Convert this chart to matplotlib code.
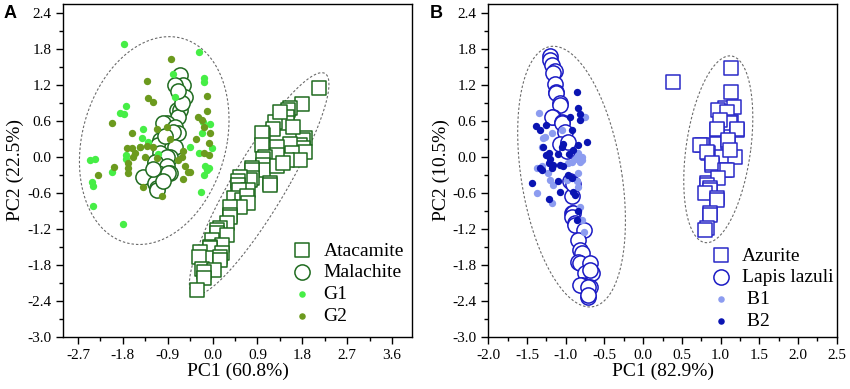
import matplotlib
matplotlib.use("Agg")
import matplotlib.pyplot as plt
import numpy as np

plt.rcParams['font.family'] = ['Liberation Serif', 'DejaVu Serif']

# ---- panel A data ----
ata_x = [2.14, 1.79, 1.55, 1.52, 1.49, 1.49, 1.25, 1.22, 1.02, 0.99, 1.85, 1.82, 1.75, 1.82, 1.55, 1.29,
         0.99, 1.85, 1.59, 1.75, 1.49, 1.29, 1.05, 1.02, 1.02, 1.02, 1.29, 1.42, 0.79, 0.79, 0.79, 0.75,
         1.15, 1.15, 0.55, 0.52, 0.52, 0.72, 0.54, 0.42, 0.59, 0.69, 0.72, 0.55, 0.35, 0.35, 0.35, 0.28,
         0.15, 0.08, 0.08, 0.28, -0.02, 0.18, -0.05, -0.05, -0.25, 0.18, -0.08, 0.15, 0.15, -0.28, -0.22,
         0.02, -0.18, -0.18, -0.31, 1.35, 1.62]
ata_y = [1.15, 0.88, 0.81, 0.78, 0.67, 0.56, 0.58, 0.47, 0.36, 0.39, 0.31, 0.28, 0.20, 0.14, 0.22, 0.17,
         0.20, 0.08, 0.06, -0.05, -0.05, 0.03, 0.00, -0.03, -0.14, -0.22, -0.16, -0.11, -0.19, -0.22, -0.36,
         -0.39, -0.44, -0.47, -0.33, -0.41, -0.47, -0.55, -0.55, -0.69, -0.72, -0.66, -0.77, -0.83, -0.83,
         -0.97, -1.00, -1.11, -1.19, -1.22, -1.27, -1.30, -1.39, -1.47, -1.50, -1.52, -1.58, -1.61, -1.69,
         -1.66, -1.72, -1.66, -1.86, -1.88, -1.91, -2.02, -2.21, 0.75, 0.50]

mal_x = [-0.65, -0.59, -0.75, -0.55, -0.72, -0.65, -0.69, -0.92, -0.99, -0.75, -0.69, -0.79, -1.01, -1.05,
         -1.09, -0.82, -0.75, -1.05, -0.85, -0.92, -1.15, -1.15, -0.92, -1.05, -1.09, -1.25, -1.39, -0.85,
         -0.89, -1.15, -1.12, -1.12, -0.62, -0.70, -0.95, -1.20, -1.00]
mal_y = [1.36, 1.20, 1.20, 1.00, 0.78, 0.78, 0.67, 0.56, 0.56, 0.50, 0.39, 0.42, 0.28, 0.28, 0.20, 0.17,
         0.17, 0.06, 0.00, 0.00, -0.11, -0.08, -0.16, -0.30, -0.27, -0.33, -0.33, -0.27, -0.27, -0.44,
         -0.52, -0.55, 0.90, 1.10, 0.35, -0.20, -0.40]

g1_x = [-1.77, -0.28, -0.79, -0.18, -0.18, -0.75, -1.74, -1.85, -1.77, -0.20, -0.05, -1.40, -1.42, -0.45,
        -0.02, -1.45, -1.74, -1.74, -0.28, -2.45, -2.35, -0.15, -0.08, -2.02, -0.18, -0.12, -2.42, -2.39,
        -0.23, -2.39, -1.80, -0.22, -1.30, -1.10]
g1_y = [1.87, 1.74, 1.38, 1.32, 1.25, 0.99, 0.85, 0.73, 0.71, 0.58, 0.55, 0.47, 0.31, 0.17, 0.15, 0.17,
        0.03, -0.04, 0.06, -0.05, -0.03, -0.16, -0.19, -0.26, -0.30, -0.22, -0.42, -0.48, -0.59, -0.82,
        -1.12, 0.40, 0.25, 0.05]

g2_x = [-0.83, -1.32, -1.30, -1.19, -0.12, -0.12, -0.29, -0.22, -2.01, -0.18, -0.05, -1.61, -1.12, -0.92,
        -0.33, -0.08, -1.72, -1.62, -1.45, -1.32, -1.19, -1.55, -1.59, -1.35, -0.59, -0.62, -0.18, -0.08,
        -1.12, -1.97, -1.69, -1.70, -1.70, -0.55, -0.49, -0.45, -2.30, -0.60, -1.39, -1.02, -0.85, -0.70]
g2_y = [1.62, 1.26, 0.98, 0.92, 1.01, 0.77, 0.67, 0.61, 0.56, 0.49, 0.39, 0.39, 0.46, 0.49, 0.29, 0.23,
        0.15, 0.14, 0.17, 0.18, 0.17, 0.06, 0.00, 0.00, 0.09, 0.00, 0.06, 0.03, -0.02, -0.17, -0.19, -0.27,
        -0.11, -0.16, -0.25, -0.26, -0.30, -0.37, -0.50, -0.66, 0.30, -0.05]

# ---- panel B data ----
azu_x = [0.39, 1.14, 1.14, 1.06, 1.17, 0.97, 1.08, 1.14, 1.12, 1.21, 1.21, 0.99, 0.95, 0.95, 0.76, 0.73,
         0.95, 1.10, 1.10, 0.84, 0.83, 1.02, 1.19, 1.12, 0.89, 0.89, 1.06, 1.08, 0.82, 0.97, 0.82, 0.86,
         0.86, 0.80, 0.95, 0.95, 0.86, 0.86, 0.82, 0.80]
azu_y = [1.24, 1.47, 1.08, 0.81, 0.83, 0.78, 0.75, 0.58, 0.56, 0.45, 0.47, 0.61, 0.45, 0.47, 0.20, 0.20,
         0.22, 0.25, 0.28, 0.06, 0.08, 0.00, 0.00, 0.11, -0.14, -0.11, -0.22, -0.22, -0.44, -0.36, -0.47,
         -0.52, -0.55, -0.61, -0.69, -0.72, -0.94, -0.97, -1.19, -1.22]

lap_x = [-1.20, -1.20, -1.18, -1.14, -1.16, -1.14, -1.12, -1.12, -1.07, -1.08, -1.16, -1.18, -1.05, -1.05,
         -1.01, -1.07, -0.92, -0.92, -0.90, -0.92, -0.88, -0.88, -0.77, -0.84, -0.82, -0.79, -0.84, -0.82,
         -0.69, -0.75, -0.66, -0.69, -0.79, -0.82, -0.69, -0.71, -0.71, -0.71, -0.95, -0.98, -0.97, -0.90]
lap_y = [1.67, 1.61, 1.53, 1.42, 1.39, 1.22, 1.08, 1.06, 0.89, 0.86, 0.67, 0.67, 0.58, 0.56, 0.42, 0.22,
         -0.66, -0.94, -0.94, -1.00, -1.11, -1.14, -1.22, -1.39, -1.55, -1.61, -1.75, -1.77, -1.77, -1.94,
         -1.94, -1.88, -2.13, -2.13, -2.16, -2.16, -2.33, -2.30, -0.40, 0.10, 0.25, -0.45]

b1_x = [-1.34, -0.77, -1.29, -1.27, -1.31, -1.18, -1.05, -0.84, -0.79, -0.82, -0.88, -0.86, -0.79, -0.92,
        -0.97, -1.37, -1.31, -1.20, -1.16, -1.23, -0.99, -0.84, -0.86, -0.84, -1.37, -1.18, -0.82, -0.79,
        -0.77, -0.75]
b1_y = [0.73, 0.66, 0.31, 0.33, 0.17, 0.39, 0.45, 0.06, 0.00, -0.08, -0.03, 0.00, -0.05, -0.08, -0.11,
        -0.19, -0.16, -0.39, -0.47, -0.27, -0.39, -0.27, -0.41, -0.50, -0.61, -0.77, -0.83, -1.05, -1.25,
        0.67]

b2_x = [-0.86, -0.84, -0.82, -0.82, -0.94, -1.38, -1.33, -1.25, -0.92, -0.73, -0.84, -0.90, -1.03, -1.05,
        -1.30, -1.25, -1.20, -1.22, -1.16, -1.18, -1.33, -1.31, -1.07, -1.03, -0.97, -0.92, -1.44, -1.10,
        -1.07, -0.90, -0.88, -1.21, -0.84, -0.86, -1.10, -0.96, -1.22]
b2_y = [1.08, 0.81, 0.72, 0.62, 0.67, 0.51, 0.45, 0.53, 0.45, 0.25, 0.20, 0.11, 0.22, 0.17, 0.17, 0.03,
        -0.03, -0.11, -0.14, -0.19, -0.19, -0.22, -0.14, -0.16, -0.30, -0.36, -0.44, -0.41, -0.58, -0.58,
        -0.64, -0.71, -0.90, -1.05, 0.05, 0.05, 0.06]

# confidence ellipses: center, conjugate half-axes (horizontal, top)
ellA = [((-1.17, 0.27), (1.47, 0.0), (0.30, 1.73)),
        ((0.935, -0.45), (0.62, 0.0), (1.255, 1.85))]
ellB = [((-0.925, -0.33), (0.655, 0.0), (-0.235, 2.17)),
        ((0.97, 0.125), (0.42, 0.0), (0.15, 1.555))]


def draw_ellipse(ax, c, u, v):
    t = np.linspace(0, 2 * np.pi, 300)
    ex = c[0] + u[0] * np.cos(t) + v[0] * np.sin(t)
    ey = c[1] + u[1] * np.cos(t) + v[1] * np.sin(t)
    ax.plot(ex, ey, color='#6a6a6a', lw=0.8, ls=(0, (2.2, 1.8)), zorder=1)


def style_axes(ax, xticks, xminor):
    ax.set_yticks(np.arange(-3.0, 2.41, 0.6))
    ax.set_yticks(np.arange(-2.7, 2.5, 0.6), minor=True)
    ax.set_xticks(xticks)
    ax.set_xticks(xminor, minor=True)
    ax.set_ylim(-3.0, 2.55)
    ax.tick_params(which='major', direction='out', length=5, width=1, labelsize=11,
                   top=False, right=False)
    ax.tick_params(which='minor', direction='out', length=3, width=1, top=False, right=False)
    for s in ax.spines.values():
        s.set_linewidth(1.0)


fig = plt.figure(figsize=(8.5, 3.89), dpi=100)
axA = fig.add_axes([0.0741, 0.1337, 0.4106, 0.857])
axB = fig.add_axes([0.5745, 0.1337, 0.4099, 0.857])

sq_size = 100
ci_size = 120
dot_size = 28

# panel A
dkgreen = '#1f6b1f'
for c, u, v in ellA:
    draw_ellipse(axA, c, u, v)
axA.scatter(ata_x, ata_y, s=sq_size, marker='s', facecolor='white', edgecolor=dkgreen, lw=1.1, label='Atacamite', zorder=2)
axA.scatter(mal_x, mal_y, s=ci_size, marker='o', facecolor='white', edgecolor=dkgreen, lw=1.1, label='Malachite', zorder=3)
axA.scatter(g1_x, g1_y, s=dot_size, marker='o', color='#46ee46', lw=0, label='G1', zorder=4)
axA.scatter(g2_x, g2_y, s=dot_size, marker='o', color='#6c9a1e', lw=0, label='G2', zorder=4)
axA.set_xlim(-3.0, 4.0)
style_axes(axA, np.arange(-2.7, 3.61, 0.9), np.arange(-2.25, 4.0, 0.9))
axA.set_xticklabels(['-2.7', '-1.8', '-0.9', '0.0', '0.9', '1.8', '2.7', '3.6'])
axA.set_yticklabels(['%.1f' % v for v in np.arange(-3.0, 2.41, 0.6)])
axA.set_xlabel('PC1 (60.8%)', fontsize=14, labelpad=1)
axA.set_ylabel('PC2 (22.5%)', fontsize=14, labelpad=2)
legA = axA.legend(loc='upper left', bbox_to_anchor=(0.657, 0.285), frameon=False, fontsize=14,
                  handlelength=1.0, handletextpad=0.6, labelspacing=0.22, borderpad=0, borderaxespad=0)
for h in legA.legend_handles[2:]:
    h.set_sizes([22])

# panel B
blue = '#1a1ac4'
for c, u, v in ellB:
    draw_ellipse(axB, c, u, v)
axB.scatter(azu_x, azu_y, s=sq_size, marker='s', facecolor='white', edgecolor='#2a2ac8', lw=1.1, label='Azurite', zorder=2)
axB.scatter(lap_x, lap_y, s=ci_size, marker='o', facecolor='white', edgecolor=blue, lw=1.1, label='Lapis lazuli', zorder=3)
axB.scatter(b1_x, b1_y, s=dot_size, marker='o', color='#8c9cf0', lw=0, label=' B1', zorder=4)
axB.scatter(b2_x, b2_y, s=dot_size, marker='o', color='#0a14b2', lw=0, label=' B2', zorder=4)
axB.set_xlim(-2.0, 2.5)
style_axes(axB, np.arange(-2.0, 2.51, 0.5), np.arange(-1.75, 2.5, 0.5))
axB.set_xticklabels(['%.1f' % v for v in np.arange(-2.0, 2.51, 0.5)])
axB.set_yticklabels(['%.1f' % v for v in np.arange(-3.0, 2.41, 0.6)])
axB.set_xlabel('PC1 (82.9%)', fontsize=14, labelpad=1)
axB.set_ylabel('PC2 (10.5%)', fontsize=14, labelpad=2)
legB = axB.legend(loc='upper left', bbox_to_anchor=(0.639, 0.27), frameon=False, fontsize=14,
                  handlelength=1.0, handletextpad=0.6, labelspacing=0.22, borderpad=0, borderaxespad=0)
for h in legB.legend_handles[2:]:
    h.set_sizes([22])

fig.text(0.012, 0.965, 'A', fontsize=13, fontweight='bold', family='Liberation Sans', va='center', ha='center')
fig.text(0.513, 0.965, 'B', fontsize=13, fontweight='bold', family='Liberation Sans', va='center', ha='center')

fig.savefig('out.png', dpi=100)
